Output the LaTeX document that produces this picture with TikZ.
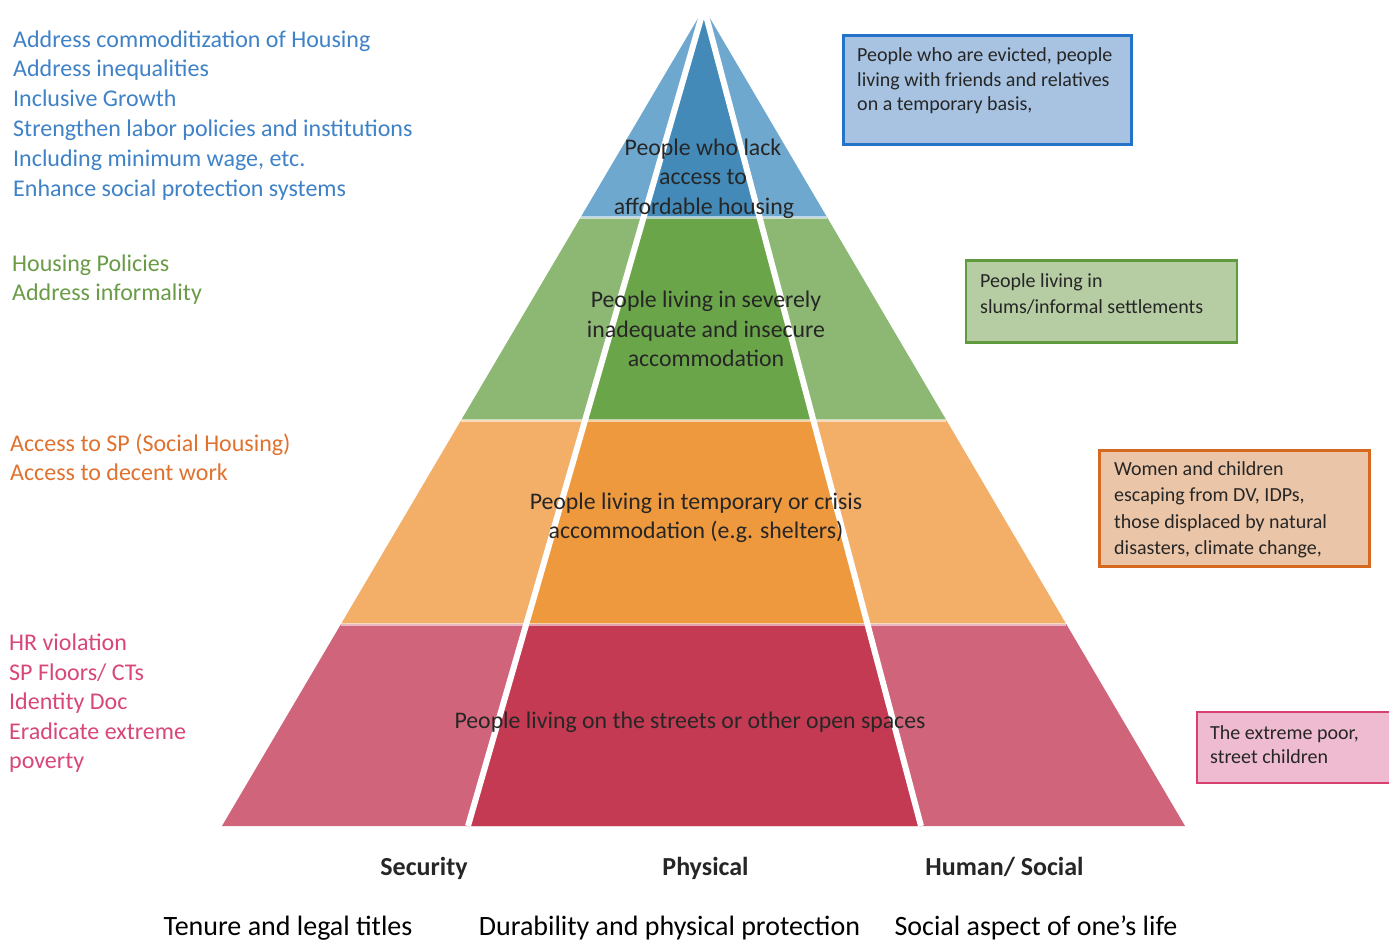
\documentclass[tikz,border=0pt]{standalone}
\usepackage{fontspec}
\setmainfont{Carlito}
\usetikzlibrary{calc}
\definecolor{blueA}{HTML}{6FA8CF}
\definecolor{blueB}{HTML}{438AB9}
\definecolor{greenA}{HTML}{8DB873}
\definecolor{greenB}{HTML}{6BA54A}
\definecolor{orangeA}{HTML}{F3AE68}
\definecolor{orangeB}{HTML}{EF993E}
\definecolor{redA}{HTML}{D0647A}
\definecolor{redB}{HTML}{C33A52}
\definecolor{txtblue}{HTML}{3F82C7}
\definecolor{txtgreen}{HTML}{6A9B47}
\definecolor{txtorange}{HTML}{E0722F}
\definecolor{txtpink}{HTML}{D8467A}
\definecolor{dark}{HTML}{262626}
\definecolor{bbfill}{HTML}{A7C3E1}
\definecolor{bbdraw}{HTML}{2573C9}
\definecolor{gbfill}{HTML}{B6CCA3}
\definecolor{gbdraw}{HTML}{5F9A3F}
\definecolor{obfill}{HTML}{EBC5A7}
\definecolor{obdraw}{HTML}{D4691F}
\definecolor{pbfill}{HTML}{EEBBD0}
\definecolor{pbdraw}{HTML}{D8416F}
\tikzset{
  lefttxt/.style={anchor=base west, inner sep=0pt, font=\fontsize{24}{29}\selectfont},
  pyrtxt/.style={anchor=base, inner sep=0pt, text=dark, font=\fontsize{23.8}{29}\selectfont},
  boxtxt/.style={anchor=base west, inner sep=0pt, text=dark, font=\fontsize{20}{24}\selectfont},
  infobox/.style={anchor=north west, inner sep=0pt, line width=2.5pt},
  dimlabel/.style={anchor=base, inner sep=0pt, text=dark, font=\fontsize{26}{30}\selectfont\bfseries},
  desclabel/.style={anchor=base, inner sep=0pt, text=black, font=\fontsize{28}{32}\selectfont},
  sepline/.style={draw=white, draw opacity=0.55, line width=3pt},
  wline/.style={draw=white, line width=6pt}
}
\begin{document}
\begin{tikzpicture}[x=1pt,y=-1pt]
\path[use as bounding box] (0,0) rectangle (1389,940);
\clip (0,0) rectangle (1389,940);
\fill[white] (0,0) rectangle (1389,940);
% pyramid geometry
\coordinate (A) at (704,8);
\coordinate (BL) at (222,826);
\coordinate (BR) at (1185,826);
\coordinate (IBL) at (468,826);
\coordinate (IBR) at (921,826);
\foreach \t [count=\i] in {0.2567,0.5037,0.7531}{
  \coordinate (L\i) at ($(A)!\t!(BL)$);
  \coordinate (R\i) at ($(A)!\t!(BR)$);
  \coordinate (IL\i) at ($(A)!\t!(IBL)$);
  \coordinate (IR\i) at ($(A)!\t!(IBR)$);
}
% layers
\fill[blueA] (A) -- (L1) -- (R1) -- cycle;
\fill[blueB] (A) -- (IL1) -- (IR1) -- cycle;
\fill[greenA] (L1) -- (L2) -- (R2) -- (R1) -- cycle;
\fill[greenB] (IL1) -- (IL2) -- (IR2) -- (IR1) -- cycle;
\fill[orangeA] (L2) -- (L3) -- (R3) -- (R2) -- cycle;
\fill[orangeB] (IL2) -- (IL3) -- (IR3) -- (IR2) -- cycle;
\fill[redA] (L3) -- (BL) -- (BR) -- (R3) -- cycle;
\fill[redB] (IL3) -- (IBL) -- (IBR) -- (IR3) -- cycle;
\path[sepline] (L1) -- (R1);
\path[sepline] (L2) -- (R2);
\path[sepline] (L3) -- (R3);
\path[wline] (A) -- (IBL);
\path[wline] (A) -- (IBR);
% pyramid texts
\node[pyrtxt] (p1a) at (703,155) {People who lack};
\node[pyrtxt] (p1b) at (703,184.5) {access to};
\node[pyrtxt] (p1c) at (704,214) {affordable housing};
\node[pyrtxt] (p2a) at (706,307.5) {People living in severely};
\node[pyrtxt] (p2b) at (706,337) {inadequate and insecure};
\node[pyrtxt] (p2c) at (706,366.5) {accommodation};
\node[pyrtxt] (p3a) at (696,509) {People living in temporary or crisis};
\node[pyrtxt] (p3b) at (696,538.5) {accommodation (e.g. shelters)};
\node[pyrtxt] (p4a) at (690,728.5) {People living on the streets or other open spaces};
% left texts
\foreach \s [count=\i] in {Address commoditization of Housing,Address inequalities,Inclusive Growth,Strengthen labor policies and institutions,{Including minimum wage, etc.},Enhance social protection systems}{
  \node[lefttxt, text=txtblue] (lb\i) at (13,{47+29.8*(\i-1)}) {\s};
}
\node[lefttxt, text=txtgreen] (lg1) at (12,271.5) {Housing Policies};
\node[lefttxt, text=txtgreen] (lg2) at (12,300.5) {Address informality};
\node[lefttxt, text=txtorange] (lo1) at (10,451.5) {Access to SP (Social Housing)};
\node[lefttxt, text=txtorange] (lo2) at (10,480.5) {Access to decent work};
\foreach \s [count=\i] in {HR violation,SP Floors/ CTs,Identity Doc,Eradicate extreme,poverty}{
  \node[lefttxt, text=txtpink] (lp\i) at (9,{650.5+29.6*(\i-1)}) {\s};
}
% right boxes
\node[infobox, draw=bbdraw, fill=bbfill, minimum width=288pt, minimum height=109pt] (bbox) at (842,34) {};
\node[boxtxt] (bt1) at (857,61.7) {People who are evicted, people};
\node[boxtxt] (bt2) at (857,86.2) {living with friends and relatives};
\node[boxtxt] (bt3) at (857,110.7) {on a temporary basis,};
\node[infobox, draw=gbdraw, fill=gbfill, minimum width=271pt, minimum height=82pt] (gbox) at (964.5,259) {};
\node[boxtxt] (gt1) at (980,287.7) {People living in};
\node[boxtxt] (gt2) at (980,313.3) {slums/informal settlements};
\node[infobox, draw=obdraw, fill=obfill, minimum width=270pt, minimum height=116pt] (obox) at (1098,449) {};
\node[boxtxt] (ot1) at (1114,475.7) {Women and children};
\node[boxtxt] (ot2) at (1114,501.9) {escaping from DV, IDPs,};
\node[boxtxt] (ot3) at (1114,528.1) {those displaced by natural};
\node[boxtxt] (ot4) at (1114,554.3) {disasters, climate change,};
\node[infobox, draw=pbdraw, fill=pbfill, minimum width=230pt, minimum height=71pt] (pbox) at (1195.5,710.5) {};
\node[boxtxt] (pt1) at (1210,739.3) {The extreme poor,};
\node[boxtxt] (pt2) at (1210,763.3) {street children};
% bottom labels
\node[dimlabel] (sec) at (424,875) {Security};
\node[dimlabel] (phy) at (705.5,875) {Physical};
\node[dimlabel] (hum) at (1004.5,875) {Human/ Social};
\node[desclabel] (d1) at (288,935) {Tenure and legal titles};
\node[desclabel] (d2) at (669.5,935) {Durability and physical protection};
\node[desclabel] (d3) at (1036,935) {Social aspect of one’s life};
\end{tikzpicture}
\end{document}
